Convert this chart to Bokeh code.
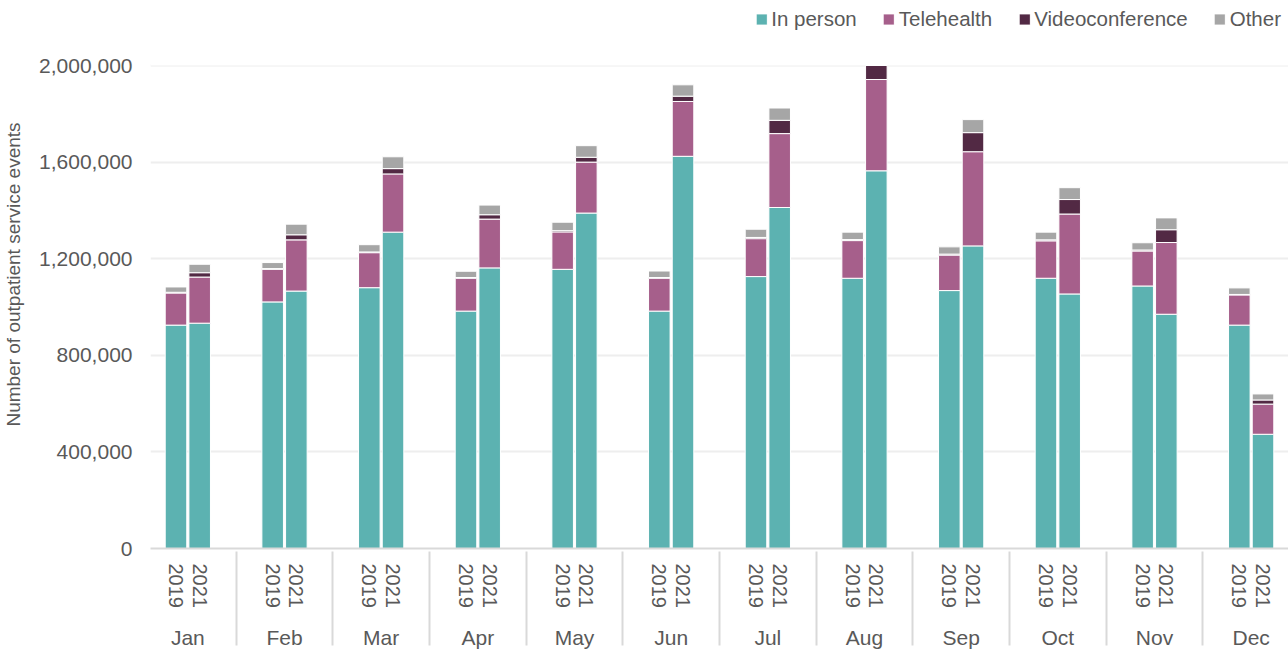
from bokeh.plotting import figure
from bokeh.models import (FactorRange, ColumnDataSource, Legend, LegendItem,
                          NumeralTickFormatter, FixedTicker, Range1d, BoxAnnotation)
from bokeh.embed import file_html
from bokeh.resources import INLINE

months = ["Jan", "Feb", "Mar", "Apr", "May", "Jun", "Jul", "Aug", "Sep", "Oct", "Nov", "Dec"]
years = ["2019", "2021"]
series = ["In person", "Telehealth", "Videoconference", "Other"]
colors = ["#5cb2b1", "#a65f8b", "#522944", "#a6a6a6"]

in_person_2019 = [925000, 1021000, 1080000, 983000, 1156000, 983000, 1126000, 1119000, 1068000, 1119000, 1087000, 925000]
telehealth_2019 = [133000, 135000, 145000, 136000, 155000, 136000, 157000, 156000, 147000, 155000, 145000, 125000]
video_2019 = [3000, 3000, 3000, 3000, 5000, 3000, 5000, 4000, 4000, 4000, 4000, 2000]
other_2019 = [22000, 25000, 30000, 26000, 35000, 27000, 34000, 31000, 30000, 32000, 30000, 27000]

in_person_2021 = [933000, 1066000, 1310000, 1162000, 1389000, 1624000, 1412000, 1564000, 1253000, 1054000, 970000, 473000]
telehealth_2021 = [191000, 212000, 241000, 202000, 211000, 227000, 306000, 378000, 390000, 331000, 297000, 125000]
video_2021 = [18000, 21000, 22000, 18000, 20000, 22000, 55000, 58000, 79000, 60000, 53000, 17000]
other_2021 = [35000, 44000, 49000, 40000, 48000, 47000, 51000, 45000, 54000, 49000, 49000, 25000]

y_ticks = [0, 400000, 800000, 1200000, 1600000, 2000000]
y_axis_max = 2000000


def interleave(a, b):
    out = []
    for u, v in zip(a, b):
        out.extend([u, v])
    return out


factors = [(m, y) for m in months for y in years]
source = ColumnDataSource(data=dict(
    x=factors,
    in_person=interleave(in_person_2019, in_person_2021),
    telehealth=interleave(telehealth_2019, telehealth_2021),
    video=interleave(video_2019, video_2021),
    other=interleave(other_2019, other_2021),
))
stackers = ["in_person", "telehealth", "video", "other"]

FONT = "Liberation Sans"
TXT = "#595959"

# layout: plot frame spans the whole height above the x axis; the value axis
# reaches y_axis_max at 65 px below the top, leaving room for the legend
FRAME_H = 548
AXIS_TOP = 65
y_end = y_axis_max * FRAME_H / (FRAME_H - AXIS_TOP)

p = figure(
    x_range=FactorRange(*factors, group_padding=2.08, factor_padding=0.0,
                        range_padding=0.576, range_padding_units="absolute"),
    y_range=Range1d(0, y_end),
    width=1288, height=655, output_backend="svg", toolbar_location=None,
    min_border_left=150, min_border_right=0, min_border_top=0, min_border_bottom=107,
)
p.outline_line_color = None
p.background_fill_color = "white"
p.border_fill_color = "white"

renderers = p.vbar_stack(stackers, x="x", width=0.91, color=colors,
                         line_color="white", line_width=1, source=source)

# values above the axis maximum are clipped, as in the original chart
p.add_layout(BoxAnnotation(bottom=y_axis_max, fill_color="white", fill_alpha=1.0,
                           line_color=None))

# y axis
p.yaxis.ticker = FixedTicker(ticks=y_ticks)
p.yaxis.formatter = NumeralTickFormatter(format="0,0")
p.yaxis.axis_line_color = None
p.yaxis.major_tick_line_color = None
p.yaxis.minor_tick_line_color = None
p.yaxis.major_tick_out = 0
p.yaxis.major_tick_in = 0
p.yaxis.major_label_standoff = 18
p.yaxis.major_label_text_font = FONT
p.yaxis.major_label_text_font_size = "21px"
p.yaxis.major_label_text_color = TXT
p.yaxis.axis_label = "Number of outpatient service events"
p.yaxis.axis_label_text_font = FONT
p.yaxis.axis_label_text_font_size = "19px"
p.yaxis.axis_label_text_font_style = "normal"
p.yaxis.axis_label_text_color = TXT
p.yaxis.axis_label_standoff = 12

p.ygrid.grid_line_color = "#eeeeee"
p.ygrid.grid_line_width = 2
p.xgrid.grid_line_color = None

# x axis
xa = p.xaxis[0]
xa.axis_line_color = "#d9d9d9"
xa.axis_line_width = 2
xa.major_tick_line_color = None
xa.major_tick_out = 0
xa.major_tick_in = 0
xa.major_label_orientation = "vertical"
xa.major_label_text_font = FONT
xa.major_label_text_font_size = "20px"
xa.major_label_text_color = TXT
xa.major_label_standoff = 15
xa.group_text_font = FONT
xa.group_text_font_size = "21px"
xa.group_text_color = TXT
xa.group_text_font_style = "normal"
xa.separator_line_color = "#d9d9d9"
xa.separator_line_width = 2

legend = Legend(
    items=[LegendItem(label=n, renderers=[r]) for n, r in zip(series, renderers)],
    location="top_right", orientation="horizontal",
    glyph_width=14, glyph_height=14, label_standoff=3, spacing=25,
    padding=0, margin=7, border_line_color=None, background_fill_alpha=0,
    label_text_font=FONT, label_text_font_size="20.5px", label_text_color=TXT,
)
p.add_layout(legend)

open("out.html", "w").write(file_html(p, INLINE))
